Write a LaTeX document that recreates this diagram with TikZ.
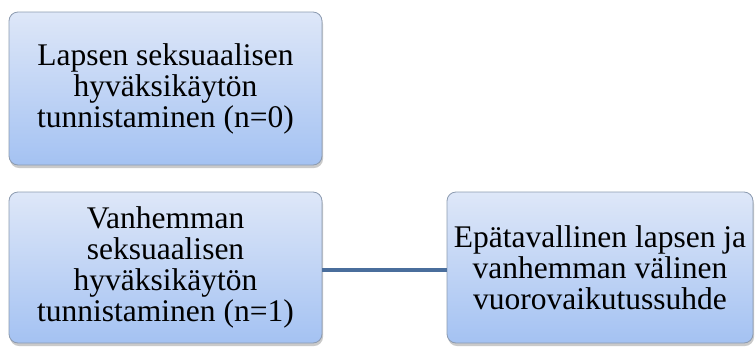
\documentclass[tikz,border=0pt]{standalone}
\usepackage{fontspec}
\setmainfont{Liberation Serif}
\usetikzlibrary{shadows}
\definecolor{boxtop}{HTML}{DEE7F8}
\definecolor{boxbot}{HTML}{A4C2F2}
\definecolor{boxline}{HTML}{8C9BB0}
\definecolor{linkblue}{HTML}{4A6E9C}
\tikzset{
  stage/.style={rectangle, rounded corners=9pt, draw=boxline, line width=0.8pt,
    top color=boxtop, bottom color=boxbot, align=center,
    font=\fontsize{31.5}{31}\selectfont, inner sep=0pt,
    drop shadow={shadow xshift=1pt, shadow yshift=-3pt, opacity=0.35, fill=black!60}},
  link/.style={draw=linkblue, line width=4pt}
}
\begin{document}
\begin{tikzpicture}[x=1pt, y=-1pt]
\useasboundingbox (0,0) rectangle (755,346);
\node[stage, minimum width=313pt, minimum height=153pt] (a) at (165.5,88.5)
  {Lapsen seksuaalisen\\hyväksikäytön\\tunnistaminen (n=0)};
\node[stage, minimum width=313pt, minimum height=151pt] (b) at (165.5,267.5)
  {Vanhemman\\seksuaalisen\\hyväksikäytön\\tunnistaminen (n=1)};
\node[stage, minimum width=306pt, minimum height=151pt] (c) at (600,267.5)
  {Epätavallinen lapsen ja\\vanhemman välinen\\vuorovaikutussuhde};
\draw[link] ([yshift=-2.5pt]b.east) -- ([yshift=-2.5pt]c.west);
\end{tikzpicture}
\end{document}
